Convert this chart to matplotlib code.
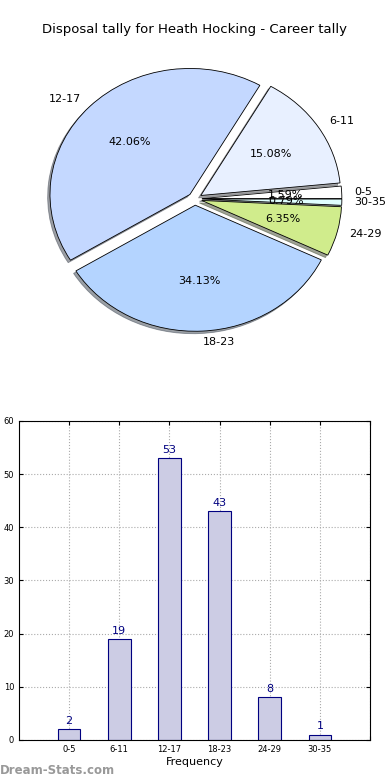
import matplotlib
matplotlib.use('Agg')
import matplotlib.pyplot as plt

plt.rcParams.update({'font.family': 'DejaVu Sans'})

# data
categories = ['0-5', '6-11', '12-17', '18-23', '24-29', '30-35']
counts = [2, 19, 53, 43, 8, 1]
pie_colors = ['#ffffff', '#e8f0ff', '#c4d8ff', '#b4d4ff', '#d0ec8c', '#e0ffff']
title = 'Disposal tally for Heath Hocking - Career tally'

fig = plt.figure(figsize=(3.9, 7.8), dpi=100)

# pie (old style: not forced circular)
ax1 = fig.add_axes([0.0513, 0.543, 0.897, 0.404])
ax1.pie(counts, labels=categories, colors=pie_colors, explode=[0.05] * len(counts),
        autopct='%1.2f%%', pctdistance=0.6, labeldistance=1.09,
        shadow={'ox': -0.012, 'oy': -0.014},
        startangle=0, counterclock=True,
        wedgeprops={'edgecolor': 'black', 'linewidth': 0.6},
        textprops={'fontsize': 8})
ax1.set_aspect('auto')
ax1.set_xlim(-1.25, 1.25)
ax1.set_ylim(-1.25, 1.25)
fig.text(0.5, 1 - 30 / 780, title, ha='center', va='center', fontsize=9.5)

# bar chart
ax2 = fig.add_axes([0.0487, 0.0513, 0.9, 0.409])
x = list(range(len(categories)))
ax2.bar(x, counts, width=0.45, color='#ccccE4', edgecolor='#000080', linewidth=0.8, zorder=2)
for xi, c in zip(x, counts):
    ax2.text(xi, c + 0.6, str(c), ha='center', va='bottom', fontsize=8, color='#000080')
ax2.set_xlim(-1, 6)
ax2.set_ylim(0, 60)
ax2.set_xticks(list(range(7)))
ax2.set_xticklabels(categories + [''], fontsize=6)
ax2.set_yticks(range(0, 61, 10))
ax2.tick_params(axis='y', labelsize=6, direction='in', right=True, length=3)
ax2.tick_params(axis='x', direction='in', top=True, length=3)
ax2.grid(True, linestyle=':', color='#aaaaaa', linewidth=0.8, zorder=0)
ax2.set_axisbelow(True)
ax2.set_xlabel('Frequency', fontsize=8, labelpad=2)

fig.text(0.0, 1 - 770 / 780, 'Dream-Stats.com', ha='left', va='center',
         fontsize=8.5, color='#999999', fontweight='bold')

fig.savefig('out.png', dpi=100)
